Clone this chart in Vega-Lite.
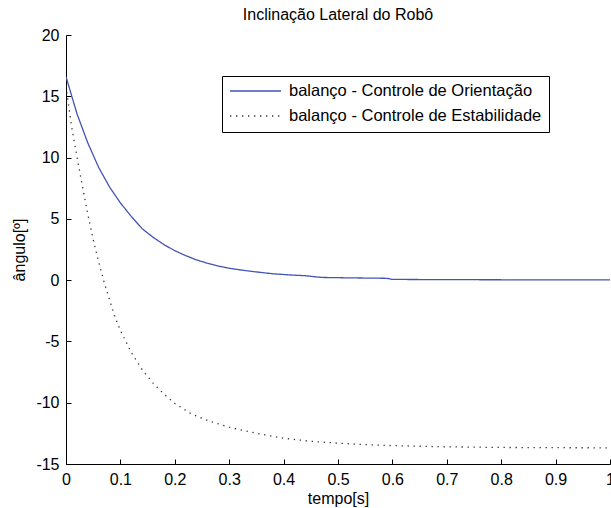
{
  "$schema": "https://vega.github.io/schema/vega-lite/v6.json",
  "width": 544,
  "height": 429,
  "autosize": {"type": "none"},
  "padding": {"left": 66, "top": 35, "right": 1, "bottom": 44},
  "background": "white",
  "title": {"text": "Inclinação Lateral do Robô", "fontSize": 16, "font": "Liberation Sans", "fontWeight": "normal", "color": "black", "anchor": "middle", "frame": "group", "offset": 4},
  "data": {"values": [
    {"t": 0, "v": 16.6, "s": "balanço - Controle de Orientação"},
    {"t": 0.02, "v": 13.6, "s": "balanço - Controle de Orientação"},
    {"t": 0.04, "v": 11.2, "s": "balanço - Controle de Orientação"},
    {"t": 0.06, "v": 9.2, "s": "balanço - Controle de Orientação"},
    {"t": 0.08, "v": 7.6, "s": "balanço - Controle de Orientação"},
    {"t": 0.1, "v": 6.3, "s": "balanço - Controle de Orientação"},
    {"t": 0.12, "v": 5.2, "s": "balanço - Controle de Orientação"},
    {"t": 0.14, "v": 4.2, "s": "balanço - Controle de Orientação"},
    {"t": 0.16, "v": 3.5, "s": "balanço - Controle de Orientação"},
    {"t": 0.18, "v": 2.9, "s": "balanço - Controle de Orientação"},
    {"t": 0.2, "v": 2.4, "s": "balanço - Controle de Orientação"},
    {"t": 0.22, "v": 2.0, "s": "balanço - Controle de Orientação"},
    {"t": 0.24, "v": 1.65, "s": "balanço - Controle de Orientação"},
    {"t": 0.26, "v": 1.38, "s": "balanço - Controle de Orientação"},
    {"t": 0.28, "v": 1.15, "s": "balanço - Controle de Orientação"},
    {"t": 0.3, "v": 0.97, "s": "balanço - Controle de Orientação"},
    {"t": 0.32, "v": 0.84, "s": "balanço - Controle de Orientação"},
    {"t": 0.34, "v": 0.72, "s": "balanço - Controle de Orientação"},
    {"t": 0.36, "v": 0.62, "s": "balanço - Controle de Orientação"},
    {"t": 0.38, "v": 0.52, "s": "balanço - Controle de Orientação"},
    {"t": 0.41, "v": 0.43, "s": "balanço - Controle de Orientação"},
    {"t": 0.44, "v": 0.36, "s": "balanço - Controle de Orientação"},
    {"t": 0.47, "v": 0.22, "s": "balanço - Controle de Orientação"},
    {"t": 0.53, "v": 0.18, "s": "balanço - Controle de Orientação"},
    {"t": 0.59, "v": 0.15, "s": "balanço - Controle de Orientação"},
    {"t": 0.6, "v": 0.06, "s": "balanço - Controle de Orientação"},
    {"t": 0.7, "v": 0.04, "s": "balanço - Controle de Orientação"},
    {"t": 0.8, "v": 0.03, "s": "balanço - Controle de Orientação"},
    {"t": 0.9, "v": 0.03, "s": "balanço - Controle de Orientação"},
    {"t": 1.0, "v": 0.03, "s": "balanço - Controle de Orientação"},
    {"t": 0, "v": 15.8, "s": "balanço - Controle de Estabilidade"},
    {"t": 0.01, "v": 12.6, "s": "balanço - Controle de Estabilidade"},
    {"t": 0.02, "v": 10.1, "s": "balanço - Controle de Estabilidade"},
    {"t": 0.03, "v": 7.7, "s": "balanço - Controle de Estabilidade"},
    {"t": 0.04, "v": 5.4, "s": "balanço - Controle de Estabilidade"},
    {"t": 0.05, "v": 3.3, "s": "balanço - Controle de Estabilidade"},
    {"t": 0.06, "v": 1.5, "s": "balanço - Controle de Estabilidade"},
    {"t": 0.07, "v": -0.15, "s": "balanço - Controle de Estabilidade"},
    {"t": 0.08, "v": -1.6, "s": "balanço - Controle de Estabilidade"},
    {"t": 0.09, "v": -3.0, "s": "balanço - Controle de Estabilidade"},
    {"t": 0.1, "v": -4.1, "s": "balanço - Controle de Estabilidade"},
    {"t": 0.12, "v": -5.9, "s": "balanço - Controle de Estabilidade"},
    {"t": 0.14, "v": -7.3, "s": "balanço - Controle de Estabilidade"},
    {"t": 0.16, "v": -8.4, "s": "balanço - Controle de Estabilidade"},
    {"t": 0.18, "v": -9.3, "s": "balanço - Controle de Estabilidade"},
    {"t": 0.2, "v": -10.06, "s": "balanço - Controle de Estabilidade"},
    {"t": 0.23, "v": -10.9, "s": "balanço - Controle de Estabilidade"},
    {"t": 0.26, "v": -11.45, "s": "balanço - Controle de Estabilidade"},
    {"t": 0.3, "v": -12.0, "s": "balanço - Controle de Estabilidade"},
    {"t": 0.35, "v": -12.5, "s": "balanço - Controle de Estabilidade"},
    {"t": 0.4, "v": -12.9, "s": "balanço - Controle de Estabilidade"},
    {"t": 0.45, "v": -13.15, "s": "balanço - Controle de Estabilidade"},
    {"t": 0.5, "v": -13.3, "s": "balanço - Controle de Estabilidade"},
    {"t": 0.55, "v": -13.42, "s": "balanço - Controle de Estabilidade"},
    {"t": 0.6, "v": -13.5, "s": "balanço - Controle de Estabilidade"},
    {"t": 0.7, "v": -13.6, "s": "balanço - Controle de Estabilidade"},
    {"t": 0.8, "v": -13.65, "s": "balanço - Controle de Estabilidade"},
    {"t": 0.9, "v": -13.67, "s": "balanço - Controle de Estabilidade"},
    {"t": 1.0, "v": -13.68, "s": "balanço - Controle de Estabilidade"}
  ]},
  "mark": {"type": "line", "strokeWidth": 1.3, "strokeCap": "butt", "clip": true},
  "encoding": {
    "x": {"field": "t", "type": "quantitative", "scale": {"domain": [0, 1], "nice": false},
      "axis": {"title": "tempo[s]", "values": [0, 0.1, 0.2, 0.3, 0.4, 0.5, 0.6, 0.7, 0.8, 0.9, 1], "format": "~g", "labelFlush": false, "labelOverlap": false}},
    "y": {"field": "v", "type": "quantitative", "scale": {"domain": [-15, 20], "nice": false},
      "axis": {"title": "ângulo[º]", "values": [-15, -10, -5, 0, 5, 10, 15, 20], "labelExpr": "replace(datum.label, '−', '-')", "labelFlush": false, "labelOverlap": false}},
    "color": {"field": "s", "type": "nominal",
      "scale": {"domain": ["balanço - Controle de Orientação", "balanço - Controle de Estabilidade"], "range": ["#4354b5", "#333333"]}},
    "strokeDash": {"field": "s", "type": "nominal",
      "scale": {"domain": ["balanço - Controle de Orientação", "balanço - Controle de Estabilidade"], "range": [[1, 0], [1.3, 4.7]]}},
    "order": {"field": "t", "type": "quantitative"}
  },
  "config": {
    "view": {"stroke": null},
    "font": "Liberation Sans",
    "axis": {
      "grid": false,
      "domainColor": "black",
      "domainWidth": 1,
      "tickColor": "black",
      "tickWidth": 1,
      "tickSize": -5,
      "labelPadding": 12,
      "labelFontSize": 16,
      "labelFont": "Liberation Sans",
      "labelColor": "black",
      "titleFontSize": 16,
      "titleFont": "Liberation Sans",
      "titleFontWeight": "normal",
      "titleColor": "black"
    },
    "axisX": {"titlePadding": 3},
    "axisY": {"titlePadding": 8},
    "legend": {
      "orient": "none",
      "legendX": 156,
      "legendY": 41,
      "title": null,
      "symbolType": "stroke",
      "symbolSize": 2601,
      "symbolStrokeWidth": 1.3,
      "clipHeight": 16,
      "labelFontSize": 16.5,
      "labelFont": "Liberation Sans",
      "labelColor": "black",
      "labelOffset": 7,
      "labelLimit": 400,
      "strokeColor": "black",
      "fillColor": "white",
      "padding": 7,
      "rowPadding": 8,
      "cornerRadius": 0
    }
  }
}
